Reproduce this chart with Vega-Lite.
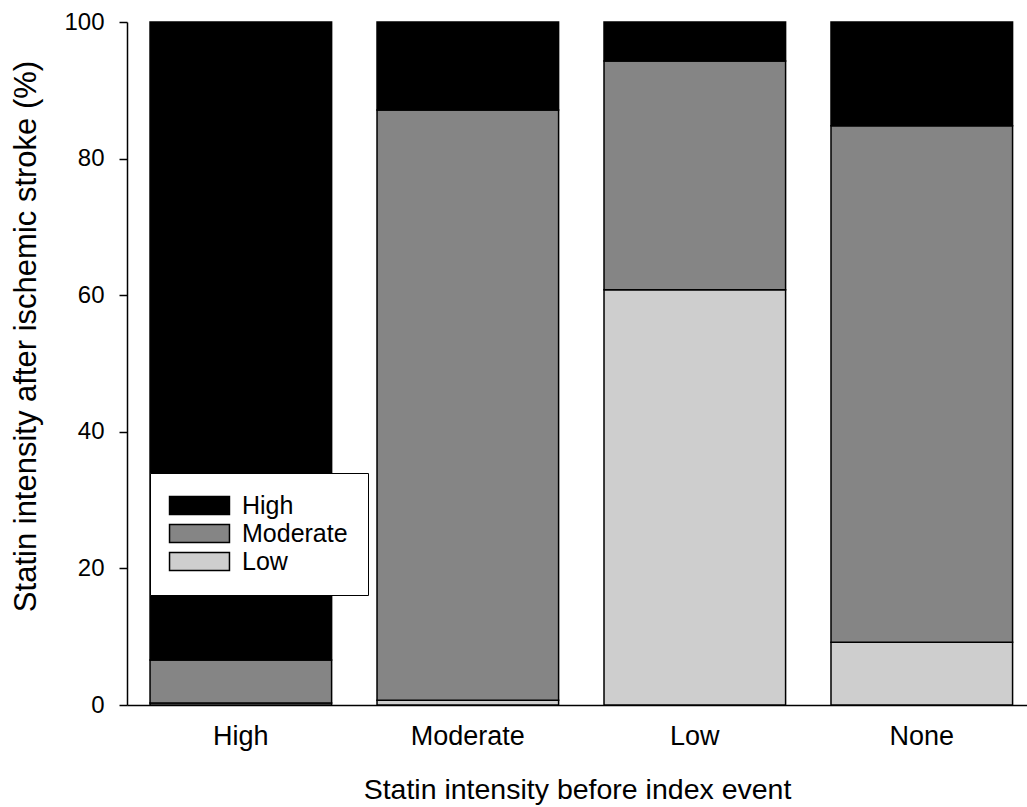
{
  "$schema": "https://vega.github.io/schema/vega-lite/v6.json",
  "width": 900,
  "height": 683,
  "autosize": {"type": "none"},
  "padding": {"left": 127, "top": 22, "right": 0, "bottom": 102},
  "background": "white",
  "config": {
    "view": {"stroke": null},
    "font": "Liberation Sans",
    "axis": {
      "domainColor": "black",
      "tickColor": "black",
      "labelColor": "black",
      "titleColor": "black",
      "grid": false,
      "titleFontWeight": "normal",
      "domainWidth": 1.5,
      "tickWidth": 1.5
    }
  },
  "data": {
    "values": [
      {"before": "High", "after": "Low", "ord": 1, "pct": 0.3},
      {"before": "High", "after": "Moderate", "ord": 2, "pct": 6.3},
      {"before": "High", "after": "High", "ord": 3, "pct": 93.4},
      {"before": "Moderate", "after": "Low", "ord": 1, "pct": 0.7},
      {"before": "Moderate", "after": "Moderate", "ord": 2, "pct": 86.4},
      {"before": "Moderate", "after": "High", "ord": 3, "pct": 12.9},
      {"before": "Low", "after": "Low", "ord": 1, "pct": 60.8},
      {"before": "Low", "after": "Moderate", "ord": 2, "pct": 33.5},
      {"before": "Low", "after": "High", "ord": 3, "pct": 5.7},
      {"before": "None", "after": "Low", "ord": 1, "pct": 9.2},
      {"before": "None", "after": "Moderate", "ord": 2, "pct": 75.6},
      {"before": "None", "after": "High", "ord": 3, "pct": 15.2}
    ]
  },
  "mark": {"type": "bar", "stroke": "black", "strokeWidth": 1.5},
  "encoding": {
    "x": {
      "field": "before",
      "type": "nominal",
      "sort": ["High", "Moderate", "Low", "None"],
      "scale": {"paddingInner": 0.2, "paddingOuter": 0.0825, "align": 0.615},
      "axis": {
        "title": "Statin intensity before index event",
        "labelAngle": 0,
        "ticks": false,
        "labelFontSize": 27,
        "labelPadding": 18,
        "titleFontSize": 28.5,
        "titlePadding": 26
      }
    },
    "y": {
      "field": "pct",
      "type": "quantitative",
      "stack": "zero",
      "scale": {"domain": [0, 100], "nice": false},
      "axis": {
        "title": "Statin intensity after ischemic stroke (%)",
        "values": [0, 20, 40, 60, 80, 100],
        "tickSize": 8,
        "labelPadding": 15,
        "labelFontSize": 24,
        "titleFontSize": 31,
        "titleX": -85,
        "titleY": 314
      }
    },
    "color": {
      "field": "after",
      "type": "nominal",
      "scale": {"domain": ["High", "Moderate", "Low"], "range": ["#000000", "#858585", "#cecece"]},
      "legend": {
        "title": null,
        "orient": "none",
        "legendX": 23,
        "legendY": 451,
        "symbolType": "M-3.33,-1L3.33,-1L3.33,1L-3.33,1Z",
        "symbolSize": 324,
        "symbolStrokeColor": "black",
        "symbolStrokeWidth": 1.5,
        "symbolOffset": 17,
        "labelOffset": 30,
        "labelFontSize": 25,
        "labelColor": "black",
        "rowPadding": 2,
        "padding": 20,
        "strokeColor": "black",
        "fillColor": "white"
      }
    },
    "order": {"field": "ord", "type": "quantitative"}
  }
}
